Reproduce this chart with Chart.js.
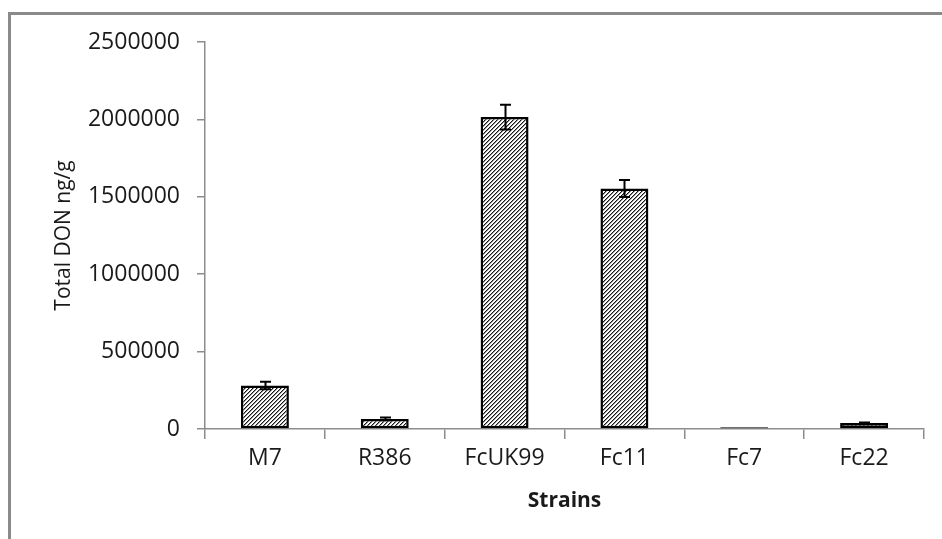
<!DOCTYPE html>
<html>
<head>
<meta charset="utf-8">
<script src="https://cdn.jsdelivr.net/npm/chart.js@4/dist/chart.umd.min.js"></script>
<style>
  html, body { margin: 0; padding: 0; background: #ffffff; }
  #wrap { position: relative; width: 942px; height: 539px; }
</style>
</head>
<body>
<div id="wrap"><canvas id="c" width="942" height="539"></canvas></div>
<script>
// ---- data ----
const strains = ['M7', 'R386', 'FcUK99', 'Fc11', 'Fc7', 'Fc22'];
const totalDON = [281000, 65000, 2015000, 1553000, 12000, 38000];
const donError = [25000, 9000, 80000, 55000, 0, 4000];
const yTickMin = 0;
const yTickMax = 2500000;
const yTickStep = 500000;
const yTitle = 'Total DON ng/g';
const xTitle = 'Strains';

// ---- hatch pattern ----
function makeHatch() {
  const n = 4;
  const c = document.createElement('canvas');
  c.width = n; c.height = n;
  const g = c.getContext('2d');
  const img = g.createImageData(n, n);
  for (let y = 0; y < n; y++) {
    for (let x = 0; x < n; x++) {
      const k = (x + y) % n;
      let v = 255;
      if (k === 0) v = 20;
      else if (k === 1) v = 150;
      const i = (y * n + x) * 4;
      img.data[i] = v; img.data[i + 1] = v; img.data[i + 2] = v; img.data[i + 3] = 255;
    }
  }
  g.putImageData(img, 0, 0);
  return document.getElementById('c').getContext('2d').createPattern(c, 'repeat');
}

const frameBorder = {
  id: 'frameBorder',
  beforeDraw(chart) {
    const ctx = chart.ctx;
    ctx.save();
    ctx.fillStyle = '#ffffff';
    ctx.fillRect(0, 0, chart.width, chart.height);
    ctx.strokeStyle = '#8a8a8a';
    ctx.lineWidth = 3;
    ctx.strokeRect(9.5, 13.5, 1200, 1200);
    ctx.restore();
  }
};

const errorBars = {
  id: 'errorBars',
  afterDatasetsDraw(chart) {
    const ctx = chart.ctx;
    const meta = chart.getDatasetMeta(0);
    const ys = chart.scales.y;
    ctx.save();
    ctx.strokeStyle = '#000000';
    ctx.lineWidth = 2;
    meta.data.forEach((bar, i) => {
      const e = donError[i];
      if (!e) return;
      const v = totalDON[i];
      const x = Math.round(bar.x) + 0.5;
      const yt = ys.getPixelForValue(v + e);
      const yb = ys.getPixelForValue(v - e);
      const cap = 5.5;
      ctx.beginPath();
      ctx.moveTo(x, yt); ctx.lineTo(x, yb);
      ctx.moveTo(x - cap, yt); ctx.lineTo(x + cap, yt);
      ctx.moveTo(x - cap, yb); ctx.lineTo(x + cap, yb);
      ctx.stroke();
    });
    ctx.restore();
  }
};

const axisColor = '#8c8c8c';
const textColor = '#1a1a1a';

new Chart(document.getElementById('c'), {
  type: 'bar',
  data: {
    labels: strains,
    datasets: [{
      data: totalDON,
      backgroundColor: makeHatch(),
      borderColor: '#000000',
      borderWidth: 2.5,
      borderSkipped: false,
      barPercentage: 0.4,
      categoryPercentage: 1.0
    }]
  },
  plugins: [frameBorder, errorBars],
  options: {
    responsive: false,
    animation: false,
    devicePixelRatio: 1,
    layout: { padding: { left: 0, right: 18, top: 42, bottom: 0 } },
    plugins: { legend: { display: false }, tooltip: { enabled: false } },
    scales: {
      x: {
        afterFit(s) { s.height = 110; },
        grid: { display: true, drawOnChartArea: false, drawTicks: true, tickLength: 10, color: axisColor, lineWidth: 1.5, offset: true },
        border: { display: true, color: axisColor, width: 1.5 },
        ticks: { color: textColor, padding: 6, font: { family: 'Open Sans', size: 23 } },
        title: { display: true, text: xTitle, color: textColor, padding: { top: 0, bottom: 25 }, font: { family: 'Open Sans', size: 21, weight: 'bold' } }
      },
      y: {
        min: yTickMin,
        max: yTickMax,
        afterFit(s) { s.width = 205; },
        grid: { display: true, drawOnChartArea: false, drawTicks: true, tickLength: 8, color: axisColor, lineWidth: 1.5 },
        border: { display: true, color: axisColor, width: 1.5 },
        ticks: { stepSize: yTickStep, color: textColor, padding: 17, font: { family: 'Open Sans', size: 23 }, callback: (v) => String(v) },
        title: { display: true, text: yTitle, color: textColor, padding: { top: 51, bottom: 0 }, font: { family: 'Open Sans', size: 21 } }
      }
    }
  }
});
</script>
</body>
</html>
